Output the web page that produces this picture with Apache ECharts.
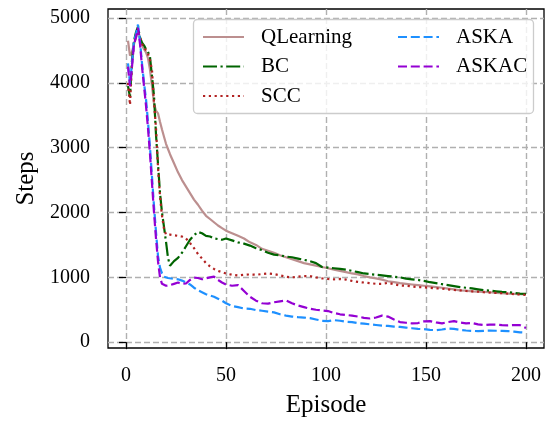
<!DOCTYPE html>
<html>
<head>
<meta charset="utf-8">
<script src="https://cdn.jsdelivr.net/npm/echarts@6/dist/echarts.min.js"></script>
<style>
  html, body { margin: 0; padding: 0; background: #fff; }
</style>
</head>
<body>
<div id="main" style="width: 549px;height:423px;"></div>
<script>
  // episodes sampled from the curves
  var episodes = [1,2,3,4,5,6,7,8,9,10,11,12,13,14,15,16,17,18,19,20,21,22,
    24,26,28,30,32,34,36,38,40,42,44,46,48,50,
    53,56,59,62,65,68,71,74,77,80,83,86,89,92,95,98,101,104,107,110,113,116,119,122,
    125,128,131,134,137,140,143,146,149,152,155,158,161,164,167,170,173,176,179,182,
    185,188,191,194,197,200];

  var qlearning = [4650,4420,4480,4600,4700,4820,4680,4580,4520,4470,4380,4200,3950,3680,3570,3530,3400,3280,3170,3060,2980,2900,
    2760,2620,2500,2400,2300,2200,2120,2030,1950,1900,1850,1800,1760,1720,
    1680,1640,1600,1540,1500,1440,1410,1380,1340,1310,1280,1250,1220,1200,1180,1160,1140,1120,1100,1080,1060,1045,1020,1000,
    985,965,940,925,910,900,890,880,870,860,850,840,825,815,800,795,785,780,775,770,
    760,755,750,745,740,735];

  var bc = [3950,3780,4350,4650,4780,4870,4700,4620,4580,4520,4480,4400,4100,3800,3200,2750,2300,2000,1780,1550,1300,1180,
    1250,1300,1380,1480,1580,1650,1700,1680,1640,1630,1600,1590,1580,1600,
    1570,1540,1520,1490,1450,1420,1380,1350,1340,1320,1310,1290,1270,1250,1220,1160,1150,1140,1130,1120,1100,1080,1060,1050,
    1040,1030,1020,1010,1000,980,970,960,945,925,910,895,880,865,850,840,830,815,800,795,
    785,775,770,760,750,745];

  var scc = [4000,3660,4300,4600,4750,4800,4700,4600,4550,4500,4450,4350,4200,3700,3300,2700,2250,1950,1750,1660,1650,1660,
    1650,1640,1630,1600,1530,1450,1360,1290,1220,1170,1130,1100,1080,1060,
    1040,1030,1040,1045,1040,1050,1060,1050,1030,1010,1000,1010,1020,1020,1000,985,975,970,975,965,945,930,920,910,
    900,900,915,895,875,870,860,850,845,840,830,825,815,805,800,790,785,780,770,765,
    760,755,748,740,735,730];

  var aska = [4300,4000,4300,4650,4750,4900,4650,4300,4000,3750,3400,3000,2550,2100,1700,1330,1150,1060,1010,1000,990,985,
    975,970,950,920,890,840,800,770,740,720,700,670,640,600,
    560,540,520,515,495,485,470,460,430,410,395,385,380,370,350,330,325,340,330,315,310,295,285,275,
    265,255,250,240,235,225,215,205,200,190,185,195,210,205,190,180,175,170,175,178,
    176,175,170,162,152,148];

  var askac = [4250,3950,4250,4600,4700,4850,4600,4250,3950,3650,3300,2900,2450,2000,1600,1250,1000,900,880,870,875,880,
    900,920,900,905,960,995,990,970,985,1000,1010,960,920,890,
    870,880,790,700,640,600,595,615,630,645,600,565,540,515,500,490,480,450,430,420,410,395,375,365,
    380,410,395,350,310,300,290,295,320,325,305,290,310,325,305,290,295,275,265,272,
    270,262,260,265,262,220];

  var xTicks = [0, 50, 100, 150, 200];
  var yTicks = [0, 1000, 2000, 3000, 4000, 5000];

  var font = 'Liberation Serif';

  function pairs(ys) {
    return episodes.map(function (e, i) { return [e, ys[i]]; });
  }

  function line(name, ys, color, type) {
    return {
      name: name,
      type: 'line',
      data: pairs(ys),
      symbol: 'none',
      animation: false,
      lineStyle: { color: color, width: 2.2, type: type, cap: 'butt' },
      itemStyle: { color: color }
    };
  }

  var myChart = echarts.init(document.getElementById('main'));

  var gridLine = { show: true, lineStyle: { color: '#b0b0b0', width: 1.4, type: [6, 3] } };

  var legendBase = {
    orient: 'vertical', top: 25, padding: 0,
    itemWidth: 41, itemHeight: 14, itemGap: 5.5,
    itemStyle: { opacity: 0, borderWidth: 0 },
    textStyle: { fontFamily: font, fontSize: 21, color: '#000', lineHeight: 24, padding: [0, 0, 0, 12] }
  };

  var option = {
    backgroundColor: '#fff',
    grid: {
      left: 108, right: 5, top: 9, bottom: 70,
      show: true, borderColor: '#000', borderWidth: 1.3, backgroundColor: 'transparent'
    },
    graphic: [{
      type: 'rect',
      z: 3,
      shape: { x: 193.5, y: 19.5, width: 340, height: 94, r: 4 },
      style: { fill: 'rgba(255,255,255,0.8)', stroke: '#cccccc', lineWidth: 1.3 }
    }],
    legend: [
      Object.assign({ data: ['QLearning', 'BC', 'SCC'], left: 202 }, legendBase),
      Object.assign({ data: ['ASKA', 'ASKAC'], left: 397 }, legendBase)
    ],
    xAxis: {
      type: 'value', min: -9, max: 209,
      name: 'Episode', nameLocation: 'middle', nameGap: 45,
      nameTextStyle: { fontFamily: font, fontSize: 25, color: '#000' },
      axisLine: { show: false },
      axisTick: { show: true, length: 7, customValues: xTicks, lineStyle: { color: '#000', width: 1.3 } },
      axisLabel: { customValues: xTicks, margin: 18, fontFamily: font, fontSize: 20, color: '#000' },
      splitLine: gridLine
    },
    yAxis: {
      type: 'value', min: -90, max: 5140,
      name: 'Steps', nameLocation: 'middle', nameGap: 67, nameRotate: 90,
      nameTextStyle: { fontFamily: font, fontSize: 25, color: '#000' },
      axisLine: { show: false },
      axisTick: { show: true, length: 7, customValues: yTicks, lineStyle: { color: '#000', width: 1.3 } },
      axisLabel: {
        customValues: yTicks, margin: 18, fontFamily: font, fontSize: 20, color: '#000',
        padding: [9, 0, 0, 0],
        formatter: function (v) { return String(v); }
      },
      splitLine: gridLine
    },
    series: [
      line('QLearning', qlearning, '#bc8f8f', 'solid'),
      line('BC', bc, '#006400', [14, 3.5, 2.2, 3.5]),
      line('SCC', scc, '#b22222', [2.2, 3.6]),
      line('ASKA', aska, '#1e90ff', [9, 3.8]),
      line('ASKAC', askac, '#9400d3', [9, 3.8])
    ]
  };

  // 使用刚指定的配置项和数据显示图表。
  myChart.setOption(option);
</script>
</body>
</html>
